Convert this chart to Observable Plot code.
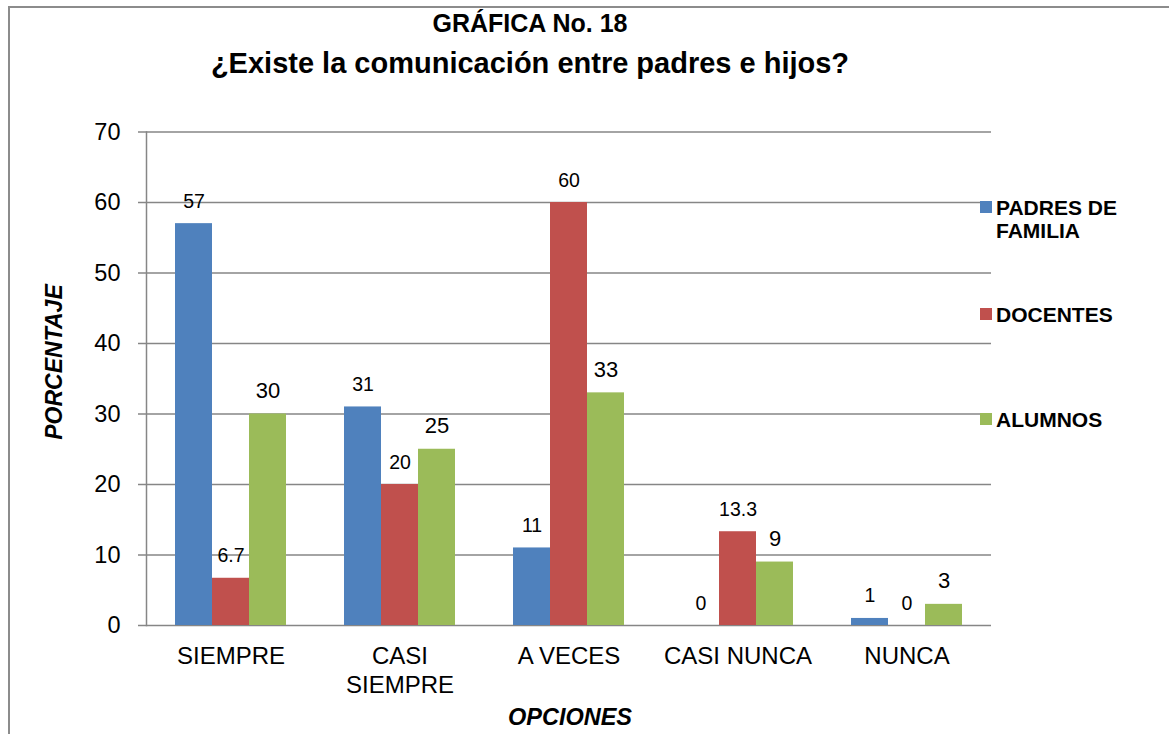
<!DOCTYPE html>
<html>
<head>
<meta charset="utf-8">
<script src="https://cdn.jsdelivr.net/npm/d3@7"></script>
<script src="https://cdn.jsdelivr.net/npm/@observablehq/plot@0.6"></script>
<style>
  body { margin: 0; background: #fff; font-family: "Liberation Sans", Arial, sans-serif; color: #000; }
  #wrap { position: relative; width: 1169px; height: 734px; overflow: hidden; background: #fff; }
  #frame { position: absolute; left: 8px; top: 6px; width: 1300px; height: 900px; border-left: 2px solid #8c8c8c; border-top: 2px solid #8c8c8c; }
  .title { position: absolute; left: 0; width: 1060px; text-align: center; font-weight: bold; white-space: nowrap; }
  #t1 { top: 11px; font-size: 25px; line-height: 25px; }
  #t2 { top: 49px; font-size: 29px; line-height: 29px; }
  #chart { position: absolute; left: 0; top: 100px; }
  .ytitle { position: absolute; left: 54px; top: 362px; transform: translate(-50%, -50%) rotate(-90deg); font-weight: bold; font-style: italic; font-size: 23px; white-space: nowrap; }
  .xtitle { position: absolute; left: 570px; top: 717px; transform: translate(-50%, -50%); font-weight: bold; font-style: italic; font-size: 23.5px; white-space: nowrap; }
  .leg { position: absolute; left: 980px; font-weight: bold; font-size: 21px; line-height: 23px; }
  .leg .sw { position: absolute; left: 0; width: 12px; height: 12px; }
  .leg .tx { position: absolute; left: 16px; white-space: nowrap; }
</style>
</head>
<body>
<div id="wrap">
  <div id="frame"></div>
  <div class="title" id="t1"></div>
  <div class="title" id="t2"></div>
  <div id="chart"></div>
  <div class="ytitle" id="ytitle"></div>
  <div class="xtitle" id="xtitle"></div>
  <div id="legend"></div>
</div>
<script>
// ---- data ----
const titleLines = ["GRÁFICA No. 18", "¿Existe la comunicación entre padres e hijos?"];
const categories = ["SIEMPRE", "CASI SIEMPRE", "A VECES", "CASI NUNCA", "NUNCA"];
const categoryLabels = ["SIEMPRE", "CASI\nSIEMPRE", "A VECES", "CASI NUNCA", "NUNCA"];
const series = ["PADRES DE FAMILIA", "DOCENTES", "ALUMNOS"];
const legendLabels = ["PADRES DE\nFAMILIA", "DOCENTES", "ALUMNOS"];
const padres = [57, 31, 11, 0, 1];
const docentes = [6.7, 20, 60, 13.3, 0];
const alumnos = [30, 25, 33, 9, 3];
const yTicks = [0, 10, 20, 30, 40, 50, 60, 70];
const yTitle = "PORCENTAJE";
const xTitle = "OPCIONES";
const colors = ["#4F81BD", "#C0504D", "#9BBB59"];
const labelSizes = [19.5, 19.5, 22];

// ---- table ----
const values = [padres, docentes, alumnos];
const data = [];
series.forEach((s, j) => categories.forEach((c, i) => data.push({cat: c, serie: s, value: values[j][i], j})));

document.getElementById("t1").textContent = titleLines[0];
document.getElementById("t2").textContent = titleLines[1];
document.getElementById("ytitle").textContent = yTitle;
document.getElementById("xtitle").textContent = xTitle;

// legend
const legTops = [196, 303, 408];
const leg = document.getElementById("legend");
series.forEach((s, j) => {
  const d = document.createElement("div");
  d.className = "leg";
  d.style.top = legTops[j] + "px";
  d.innerHTML = `<div class="sw" style="top:5px;background:${colors[j]}"></div><div class="tx">${legendLabels[j].replace("\n", "<br>")}</div>`;
  leg.appendChild(d);
});

const grid = "#868686";
const chart = Plot.plot({
  width: 1169,
  height: 634,
  marginTop: 31.5,
  marginBottom: 109,
  marginLeft: 145,
  marginRight: 177,
  style: {fontFamily: '"Liberation Sans", Arial, sans-serif', fontSize: "23px", color: "#000", background: "transparent", overflow: "visible"},
  fx: {domain: categories, padding: 0, label: null},
  x: {domain: series, paddingInner: 0, paddingOuter: 0.758, axis: null},
  y: {domain: [0, 70], label: null},
  color: {domain: series, range: colors},
  marks: [
    Plot.ruleY(yTicks, {stroke: grid, strokeWidth: 1.5}),
    Plot.frame({anchor: "left", fx: categories[0], stroke: grid, strokeWidth: 1.5}),
    Plot.barY(data, {fx: "cat", x: "serie", y: "value", fill: "serie"}),
    Plot.text(data, {fx: "cat", x: "serie", y: "value", text: d => String(d.value), dy: -16, lineAnchor: "bottom", fontSize: d => labelSizes[d.j], fill: "#000"}),
    Plot.axisY({ticks: yTicks, tickSize: 8, tickPadding: 18, fontSize: 23.5, stroke: grid, strokeWidth: 1.5, fill: "#000", label: null}),
    Plot.axisFx({anchor: "bottom", tickSize: 0, tickPadding: 19, fontSize: 24, lineHeight: 1.17, fill: "#000", label: null,
      tickFormat: d => categoryLabels[categories.indexOf(d)]})
  ]
});
document.getElementById("chart").appendChild(chart);
</script>
</body>
</html>
